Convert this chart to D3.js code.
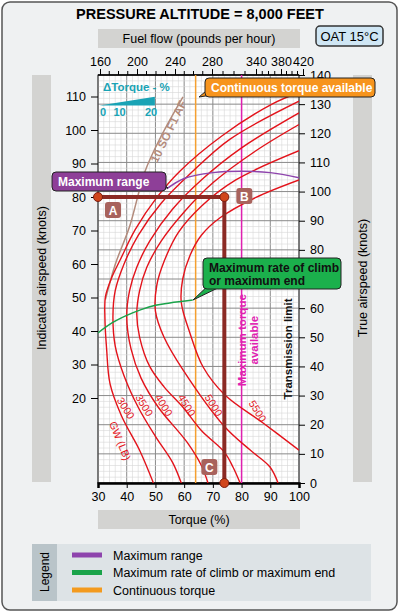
<!DOCTYPE html>
<html><head><meta charset="utf-8">
<script src="https://cdn.jsdelivr.net/npm/d3@7/dist/d3.min.js"></script>
<style>body{margin:0;background:#fff}text{font-family:"Liberation Sans",Arial,sans-serif}</style>
</head><body><svg id="c" width="400" height="613"></svg>
<script>
const torqueTicks=[30,40,50,60,70,80,90,100];
const tasTicks=[0,10,20,30,40,50,60,70,80,90,100,110,120,130,140];
const iasTicks=[20,30,40,50,60,70,80,90,100,110];
const fuelTicks=[160,200,240,280,340,380,420];
const fuelPx=[100,137,175,212,256,281,303];
const gwNames=["3000","3500","4000","4500","5000","5500"];
const gwCurves=[
[[49.3,0],[44.6,11],[38.2,23],[34.2,34],[33,46],[32.4,57],[32.6,64],[35,71],[37.7,76.5],[43,87],[50.5,98],[58.5,107],[73,119],[90.6,130],[100,134]],
[[59,0],[56,7],[50,16],[44,26],[39,37],[36,47],[35.2,57],[36,66],[39,75],[44,85],[52,96],[62,106],[76,118],[100,131]],
[[68.3,0],[66,6],[61,14],[51,26],[45,36],[41.5,46],[40,57],[41,66],[43.5,74],[48,83],[56,94],[66,104],[80,115],[100,127]],
[[79.5,0],[77,5.5],[74,10.6],[66,18],[59.6,26],[53,33],[48,40],[44.5,50],[43.5,58],[44.5,66],[47,74],[52,83],[60,93],[70,103],[85,114],[100,123]],
[[92.7,0],[89.9,5.5],[83,11.3],[74.2,19.2],[59.6,38.8],[53,50],[50,59],[50.5,68],[53,76],[58,86],[66,95],[78,104],[100,114]],
[[100,11.3],[87.5,20.6],[74.2,30.2],[66.6,39.8],[62,51.5],[59,62],[59.5,70],[62,78],[66,85],[72.5,91],[85,98],[100,104]]];
const gwLabelPos=[[38.6,25],[45,26],[51.8,26],[59.8,26],[69.2,26],[84.5,24]];
const maxRange=[[54,101],[60,104.5],[70,106.5],[80,107],[90,106.5],[100,104.7]];
const maxClimb=[[30,51.5],[35,55],[40,57.5],[45,59.5],[50,61],[55,61.8],[63,62.8]];
const soLine=[[32.6,63],[36,75],[41,88],[46.4,107],[52,119],[59.6,132.5]];
const contTorque=64, maxTorque=80;
const pathABC=[[30,80],[74,80],[74,0]]; // A,B in IAS, C in TAS
const legendItems=[["Maximum range","#8e44ad"],["Maximum rate of climb or maximum end","#1aa34a"],["Continuous torque","#f39a1e"]];

const svg=d3.select("#c");
const L=98,R=299,T=75,B=483;
const x=d3.scaleLinear().domain([30,100]).range([L,R]);
const y=d3.scaleLinear().domain([0,140]).range([B,T]);
const yi=d3.scaleLinear().domain([0,110]).range([465,96.5]);
const xf=d3.scaleLinear().domain(fuelTicks).range(fuelPx);

svg.append("rect").attr("x",2).attr("y",2).attr("width",395).attr("height",608).attr("rx",8).attr("fill","#eff1f2").attr("stroke","#555").attr("stroke-width",1.5);
svg.append("text").attr("x",200).attr("y",19).attr("text-anchor","middle").attr("font-weight","bold").attr("font-size",14.5).text("PRESSURE ALTITUDE = 8,000 FEET");
svg.append("rect").attr("x",316).attr("y",26).attr("width",67).attr("height",20).attr("rx",4).attr("fill","#cfe6f4").attr("stroke","#333").attr("stroke-width",1.5);
svg.append("text").attr("x",349.5).attr("y",41).attr("text-anchor","middle").attr("font-size",13).text("OAT 15°C");
const band=(bx,by,w,h)=>svg.append("rect").attr("x",bx).attr("y",by).attr("width",w).attr("height",h).attr("fill","#d3d3d1");
band(98,29,202,19);band(98,510,202,19);band(32,75,19,407);band(353,75,19,407);
svg.append("text").attr("x",199).attr("y",43).attr("text-anchor","middle").attr("font-size",12.5).text("Fuel flow (pounds per hour)");
svg.append("text").attr("x",199).attr("y",524).attr("text-anchor","middle").attr("font-size",12.5).text("Torque (%)");
svg.append("text").attr("transform","translate(46,278) rotate(-90)").attr("text-anchor","middle").attr("font-size",12.5).text("Indicated airspeed (knots)");
svg.append("text").attr("transform","translate(367,278) rotate(-90)").attr("text-anchor","middle").attr("font-size",12.5).text("True airspeed (knots)");
svg.append("rect").attr("x",L).attr("y",T).attr("width",R-L).attr("height",B-T).attr("fill","#fff");
const g=svg.append("g");
d3.range(30,100.1,2).forEach(v=>g.append("line").attr("x1",x(v)).attr("x2",x(v)).attr("y1",T).attr("y2",B).attr("stroke",v%10==0?"#8a8a8a":"#d6d6d6").attr("stroke-width",v%10==0?1:0.6));
d3.range(0,140.1,2).forEach(v=>g.append("line").attr("y1",y(v)).attr("y2",y(v)).attr("x1",L).attr("x2",R).attr("stroke",v%10==0?"#8a8a8a":"#d6d6d6").attr("stroke-width",v%10==0?1:0.6));
svg.append("rect").attr("x",L).attr("y",T).attr("width",R-L).attr("height",B-T).attr("fill","none").attr("stroke","#333").attr("stroke-width",1);
const fs=a=>a.selectAll("text").attr("font-size",12.5).attr("font-family","Liberation Sans, Arial");
svg.append("g").attr("transform",`translate(0,${B})`).call(d3.axisBottom(x).tickValues(torqueTicks).tickSize(5).tickPadding(4)).call(a=>{a.select(".domain").attr("stroke-width",2.5);fs(a)});
svg.append("g").attr("transform",`translate(${R},0)`).call(d3.axisRight(y).tickValues(tasTicks).tickSize(6).tickPadding(5)).call(a=>{a.select(".domain").remove();fs(a)});
svg.append("g").attr("transform",`translate(${L},0)`).call(d3.axisLeft(yi).tickValues(iasTicks).tickSize(7).tickPadding(5)).call(a=>{a.select(".domain").remove();fs(a)});
const ft=svg.append("g").attr("transform",`translate(0,${T})`).call(d3.axisTop(xf).tickValues(fuelTicks).tickSize(6).tickPadding(3)).call(a=>{a.select(".domain").attr("d",`M${L},0H${R}`).attr("stroke-width",1.5);fs(a)});
const minor=[];for(let i=0;i<fuelTicks.length-1;i++){for(let k=1;k<4;k++)minor.push(fuelTicks[i]+(fuelTicks[i+1]-fuelTicks[i])*k/4);}
minor.filter(v=>xf(v)<=R).forEach(v=>ft.append("line").attr("x1",xf(v)).attr("x2",xf(v)).attr("y1",0).attr("y2",-4).attr("stroke","#000"));
svg.append("text").attr("x",103).attr("y",91).attr("fill","#19a3b5").attr("font-size",11.5).attr("font-weight","bold").text("ΔTorque - %");
svg.append("path").attr("d",`M${x(30.5)},${y(129.5)}L${x(49.8)},${y(132.5)}L${x(49.8)},${y(129.5)}Z`).attr("fill","#19a3b5");
[[0,31.8],[10,37.5],[20,48.5]].forEach(d=>svg.append("text").attr("x",x(d[1])).attr("y",116).attr("text-anchor","middle").attr("fill","#19a3b5").attr("font-size",11).attr("font-weight","bold").text(d[0]));
const line=d3.line().x(d=>x(d[0])).y(d=>y(d[1])).curve(d3.curveCatmullRom);
svg.append("clipPath").attr("id","pc").append("rect").attr("x",L).attr("y",T).attr("width",R-L).attr("height",B-T);
const pg=svg.append("g").attr("clip-path","url(#pc)");
pg.append("line").attr("x1",x(contTorque)).attr("x2",x(contTorque)).attr("y1",T).attr("y2",B).attr("stroke","#f5a030").attr("stroke-width",1.5);
pg.append("line").attr("x1",x(maxTorque)).attr("x2",x(maxTorque)).attr("y1",T).attr("y2",B).attr("stroke","#e020b0").attr("stroke-width",1.5);
pg.append("path").attr("d",line(soLine)).attr("fill","none").attr("stroke","#b38b7c").attr("stroke-width",1.5);
gwCurves.forEach(c=>pg.append("path").attr("d",line(c)).attr("fill","none").attr("stroke","#e3131b").attr("stroke-width",1.4));
pg.append("path").attr("d",line(maxRange)).attr("fill","none").attr("stroke","#8e44ad").attr("stroke-width",1.5);
pg.append("path").attr("d",line(maxClimb)).attr("fill","none").attr("stroke","#1aa34a").attr("stroke-width",1.5);
gwNames.forEach((n,i)=>svg.append("text").attr("transform",`translate(${x(gwLabelPos[i][0])},${y(gwLabelPos[i][1])}) rotate(58)`).attr("text-anchor","middle").attr("fill","#e3131b").attr("font-size",10.5).text(n));
svg.append("text").attr("transform",`translate(${x(36.5)},${y(14)}) rotate(68)`).attr("text-anchor","middle").attr("fill","#e3131b").attr("font-size",10.5).text("GW (LB)");
svg.append("text").attr("transform",`translate(${x(55.8)},${y(120)}) rotate(-64)`).attr("text-anchor","middle").attr("fill","#b38b7c").attr("font-size",11.5).attr("font-weight","bold").text("10 SO F1 AF");
svg.append("text").attr("transform",`translate(${x(81.5)},${y(49)}) rotate(-90)`).attr("text-anchor","middle").attr("fill","#e020b0").attr("font-size",11.5).attr("font-weight","bold").text("Maximum torque");
svg.append("text").attr("transform",`translate(${x(85.8)},${y(49)}) rotate(-90)`).attr("text-anchor","middle").attr("fill","#e020b0").attr("font-size",11.5).attr("font-weight","bold").text("available");
svg.append("text").attr("transform",`translate(${x(97.4)},${y(46)}) rotate(-90)`).attr("text-anchor","middle").attr("fill","#111").attr("font-size",11.5).attr("font-weight","bold").text("Transmission limit");
const pA=[x(pathABC[0][0]),yi(pathABC[0][1])],pB=[x(pathABC[1][0]),yi(pathABC[1][1])],pC=[x(pathABC[2][0]),y(pathABC[2][1])];
svg.append("path").attr("d",`M${pA}L${pB}L${pC}`).attr("fill","none").attr("stroke","#8b2a24").attr("stroke-width",4);
const tag=(cx,cy,t)=>{svg.append("rect").attr("x",cx-8).attr("y",cy-8).attr("width",16).attr("height",16).attr("rx",3).attr("fill","#a8625c");svg.append("text").attr("x",cx).attr("y",cy+4.5).attr("text-anchor","middle").attr("fill","#fff").attr("font-weight","bold").attr("font-size",12).text(t);};
tag(pA[0]+15,pA[1]+13,"A");tag(pB[0]+20,pB[1]-1,"B");tag(pC[0]-15,pC[1]-16,"C");
[pA,pB,pC].forEach(p=>svg.append("circle").attr("cx",p[0]).attr("cy",p[1]).attr("r",4.5).attr("fill","#d0451b").attr("stroke","#7a1d10"));
const callout=(bx,by,w,h,fill,ptr,lines,col)=>{svg.append("path").attr("d",ptr).attr("fill",fill).attr("stroke","#222").attr("stroke-width",1);svg.append("rect").attr("x",bx).attr("y",by).attr("width",w).attr("height",h).attr("rx",4).attr("fill",fill).attr("stroke","#222").attr("stroke-width",1);
 lines.forEach((l,i)=>svg.append("text").attr("x",bx+6).attr("y",by+14+i*13).attr("fill",col).attr("font-weight","bold").attr("font-size",12).text(l));};
callout(205,78,170,19,"#f7941d",`M212,95L199,97L212,86Z`,["Continuous torque available"],"#fff");
callout(52,172,114,19,"#8e3f98",`M155,187L168,188L155,178Z`,["Maximum range"],"#fff");
callout(203,258,138,31,"#1bb04c",`M212,282L193,300L224,285Z`,["Maximum rate of climb","or maximum end"],"#111");
svg.append("rect").attr("x",32).attr("y",544).attr("width",339).attr("height",57).attr("fill","#dde3e6");
svg.append("rect").attr("x",32).attr("y",544).attr("width",25).attr("height",57).attr("fill","#b9c4c9");
svg.append("text").attr("transform","translate(49,572) rotate(-90)").attr("text-anchor","middle").attr("font-size",12).text("Legend");
legendItems.forEach((d,i)=>{svg.append("line").attr("x1",72).attr("x2",102).attr("y1",555+i*17.5).attr("y2",555+i*17.5).attr("stroke",d[1]).attr("stroke-width",5);
 svg.append("text").attr("x",113).attr("y",559.5+i*17.5).attr("font-size",12.5).text(d[0]);});
</script></body></html>
